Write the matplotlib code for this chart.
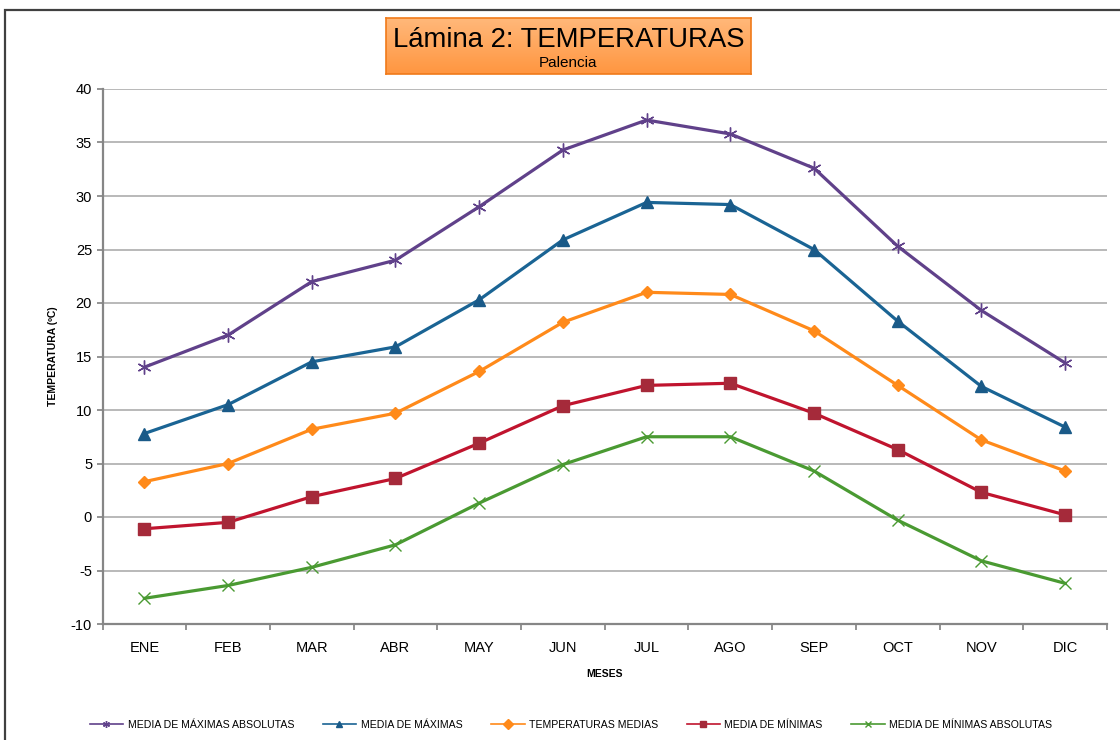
import numpy as np
import matplotlib.pyplot as plt
from matplotlib.patches import Rectangle

plt.rcParams['font.family'] = ['Liberation Sans', 'DejaVu Sans']
plt.rcParams['axes.unicode_minus'] = False

meses = ['ENE', 'FEB', 'MAR', 'ABR', 'MAY', 'JUN', 'JUL', 'AGO', 'SEP', 'OCT', 'NOV', 'DIC']

max_abs = [14.0, 17.0, 22.0, 24.0, 29.0, 34.3, 37.1, 35.8, 32.6, 25.3, 19.3, 14.4]
media_max = [7.8, 10.5, 14.5, 15.9, 20.3, 25.9, 29.4, 29.2, 25.0, 18.3, 12.2, 8.4]
medias = [3.3, 5.0, 8.2, 9.7, 13.6, 18.2, 21.0, 20.8, 17.4, 12.3, 7.2, 4.3]
media_min = [-1.1, -0.5, 1.9, 3.6, 6.9, 10.4, 12.3, 12.5, 9.7, 6.3, 2.3, 0.2]
min_abs = [-7.6, -6.4, -4.7, -2.6, 1.3, 4.9, 7.5, 7.5, 4.3, -0.3, -4.1, -6.2]

W, H = 1120, 740
fig = plt.figure(figsize=(W / 100, H / 100), dpi=100)

# outer chart frame (runs off the right/bottom edge like the original)
fig.patches.append(Rectangle((5 / W, -0.05), 1.1, 1 - 10 / H + 0.05,
                             transform=fig.transFigure, fill=False,
                             edgecolor='#404040', linewidth=1.6))

ax = fig.add_axes([102.5 / W, 1 - 624 / H, (1107 - 102.5) / W, (624 - 89) / H])

x = np.arange(len(meses))
series = [
    (max_abs, 'MEDIA DE MÁXIMAS ABSOLUTAS', '#60418A', (6, 2, 0), 10, '#60418A'),
    (media_max, 'MEDIA DE MÁXIMAS', '#1A6494', '^', 8, '#1A5A88'),
    (medias, 'TEMPERATURAS MEDIAS', '#FF8A1A', 'D', 6, '#FF8A1A'),
    (media_min, 'MEDIA DE MÍNIMAS', '#C0142E', 's', 8, '#A52A3A'),
    (min_abs, 'MEDIA DE MÍNIMAS ABSOLUTAS', '#4A9A32', 'x', 8, '#4A9A32'),
]
for vals, lab, col, mk, ms, mcol in series:
    ax.plot(x, vals, color=col, linewidth=2.3, marker=mk, markersize=ms,
            markerfacecolor=mcol, markeredgecolor=mcol, markeredgewidth=1.0,
            label=lab, zorder=3)

ax.set_xlim(-0.5, 11.5)
ax.set_ylim(-10, 40)
ax.set_yticks(np.arange(-10, 41, 5))
ax.set_xticks(x)
ax.set_xticklabels(meses)
ax.set_xticks(np.arange(-0.5, 12, 1), minor=True)
ax.tick_params(axis='x', which='major', length=0, pad=12, labelsize=10.5)
ax.tick_params(axis='x', which='minor', length=4, color='#808080', width=1.2)
ax.tick_params(axis='y', length=4, color='#808080', width=1.2, labelsize=10.5)
ax.grid(axis='y', color='#A6A6A6', linewidth=1.1, zorder=0)
for s in ['top', 'right']:
    ax.spines[s].set_visible(False)
for s in ['left', 'bottom']:
    ax.spines[s].set_color('#868686')
    ax.spines[s].set_linewidth(1.6)

ax.set_xlabel('MESES', fontsize=7.5, fontweight='bold', labelpad=10)
ax.set_ylabel('TEMPERATURA (ºC)', fontsize=7.5, fontweight='bold', labelpad=9)

leg = ax.legend(loc='center', bbox_to_anchor=(0.5 * (92 + 1050) / W, 1 - 725 / H),
                bbox_transform=fig.transFigure, ncol=5, frameon=False, fontsize=7.6,
                handlelength=3.2, columnspacing=2.7, handletextpad=0.4)
for h in leg.legend_handles:
    h.set_linewidth(1.2)
    h.set_markersize(5)

# title box with orange gradient
tx0, ty0, tx1, ty1 = 386, 18, 751, 74
tax = fig.add_axes([tx0 / W, 1 - ty1 / H, (tx1 - tx0) / W, (ty1 - ty0) / H])
grad = np.linspace(0, 1, 100).reshape(-1, 1)
top = np.array([255, 184, 122]) / 255
bot = np.array([255, 150, 64]) / 255
img = top + (bot - top) * grad[:, :, None]
tax.imshow(img, aspect='auto', extent=[0, 1, 0, 1])
tax.set_xticks([])
tax.set_yticks([])
for s in tax.spines.values():
    s.set_color('#F07A1A')
    s.set_linewidth(1.2)
tax.text(0.5, 0.6, 'Lámina 2: TEMPERATURAS', ha='center', va='center',
         fontsize=19.8, transform=tax.transAxes)
tax.text(0.5, 0.2, 'Palencia', ha='center', va='center',
         fontsize=11, transform=tax.transAxes)

fig.savefig('out.png', dpi=100)
